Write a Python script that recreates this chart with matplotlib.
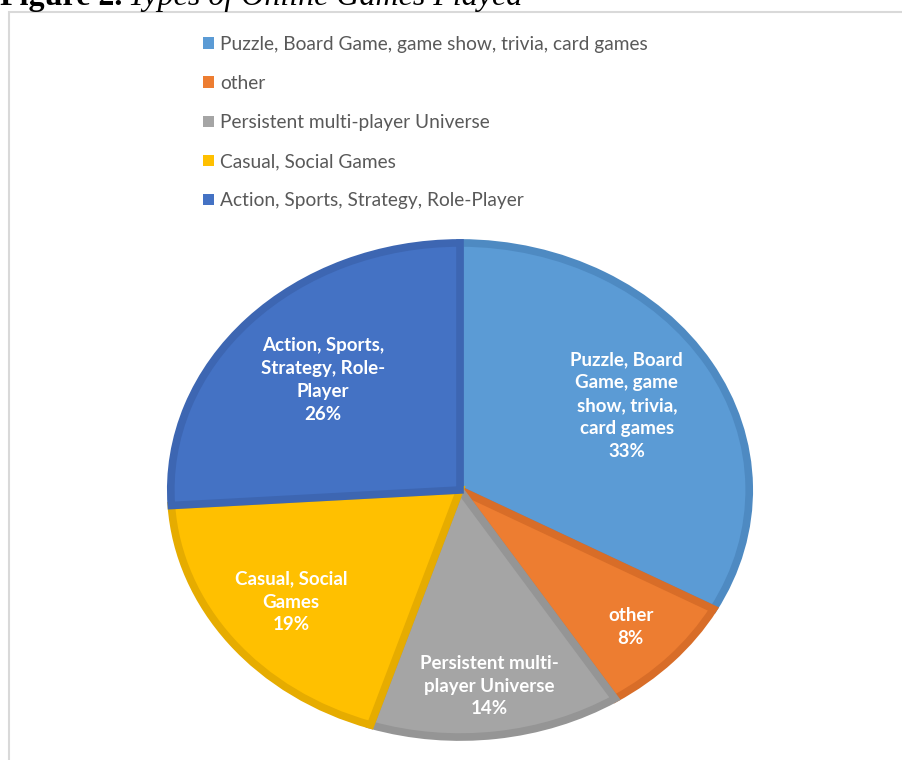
import matplotlib
matplotlib.use("Agg")
import matplotlib.pyplot as plt
from matplotlib.patches import Rectangle, Patch
import numpy as np

categories = ["Puzzle, Board Game, game show, trivia, card games", "other",
              "Persistent multi-player Universe", "Casual, Social Games",
              "Action, Sports, Strategy, Role-Player"]
slice_labels = ["Puzzle, Board\nGame, game\nshow, trivia,\ncard games",
                "other", "Persistent multi-\nplayer Universe",
                "Casual, Social\nGames", "Action, Sports,\nStrategy, Role-\nPlayer"]
values = [33, 8, 14, 19, 26]

fills = ["#5B9BD5", "#ED7D31", "#A5A5A5", "#FFC000", "#4472C4"]
edges = ["#4E8AC2", "#D86D28", "#959595", "#E6AC00", "#3D66B2"]
label_dist = [0.67, 0.81, 0.80, 0.74, 0.65]

W, H = 902, 760
fig = plt.figure(figsize=(W / 100, H / 100), dpi=100)
fig.patch.set_facecolor("white")

# frame
fig.add_artist(Rectangle((8.5 / W, -0.05), 1.0, 1 - 12 / H + 0.05, transform=fig.transFigure,
                         fill=False, edgecolor="#D9D9D9", linewidth=1.5))

# title (cut at top, as in the source)
r = fig.canvas.get_renderer()
t1 = fig.text(0.0, 1 - 5 / H, "Figure 2.", fontsize=23, fontweight="bold",
              family="Liberation Serif", va="baseline", ha="left")
bb = t1.get_window_extent(renderer=r)
fig.text(bb.x1 / W + 6 / W, 1 - 5 / H, "Types of Online Games Played", fontsize=23,
         fontstyle="italic", family="Liberation Serif", va="baseline", ha="left")

# pie
cx, cy, rx, ry = 460, 490, 295, 252
ax = fig.add_axes([(cx - rx) / W, 1 - (cy + ry) / H, 2 * rx / W, 2 * ry / H])
wedges, _ = ax.pie(values, colors=fills, startangle=90, counterclock=False, radius=1,
                   wedgeprops=dict(linewidth=5.5, joinstyle="miter"))
for w, ec in zip(wedges, edges):
    w.set_edgecolor(ec)
ax.set_xlim(-1.02, 1.02)
ax.set_ylim(-1.02, 1.02)
ax.set_aspect("auto")
ax.axis("off")

for w, lab, v, d in zip(wedges, slice_labels, values, label_dist):
    ang = np.deg2rad((w.theta1 + w.theta2) / 2)
    ax.text(d * np.cos(ang), d * np.sin(ang), f"{lab}\n{v}%", ha="center", va="center",
            color="white", fontsize=13.5, fontweight="bold", family="Lato",
            linespacing=1.42)

handles = [Patch(facecolor=c, edgecolor="none") for c in fills]
leg = fig.legend(handles, categories, loc="upper left", bbox_to_anchor=(203 / W, 1 - 36 / H),
                 frameon=False, prop=dict(family="Lato", size=13.8),
                 handlelength=0.55, handleheight=0.55, handletextpad=0.35, labelspacing=1.15,
                 borderaxespad=0, borderpad=0)
for t in leg.get_texts():
    t.set_color("#595959")

fig.savefig("out.png", dpi=100)
